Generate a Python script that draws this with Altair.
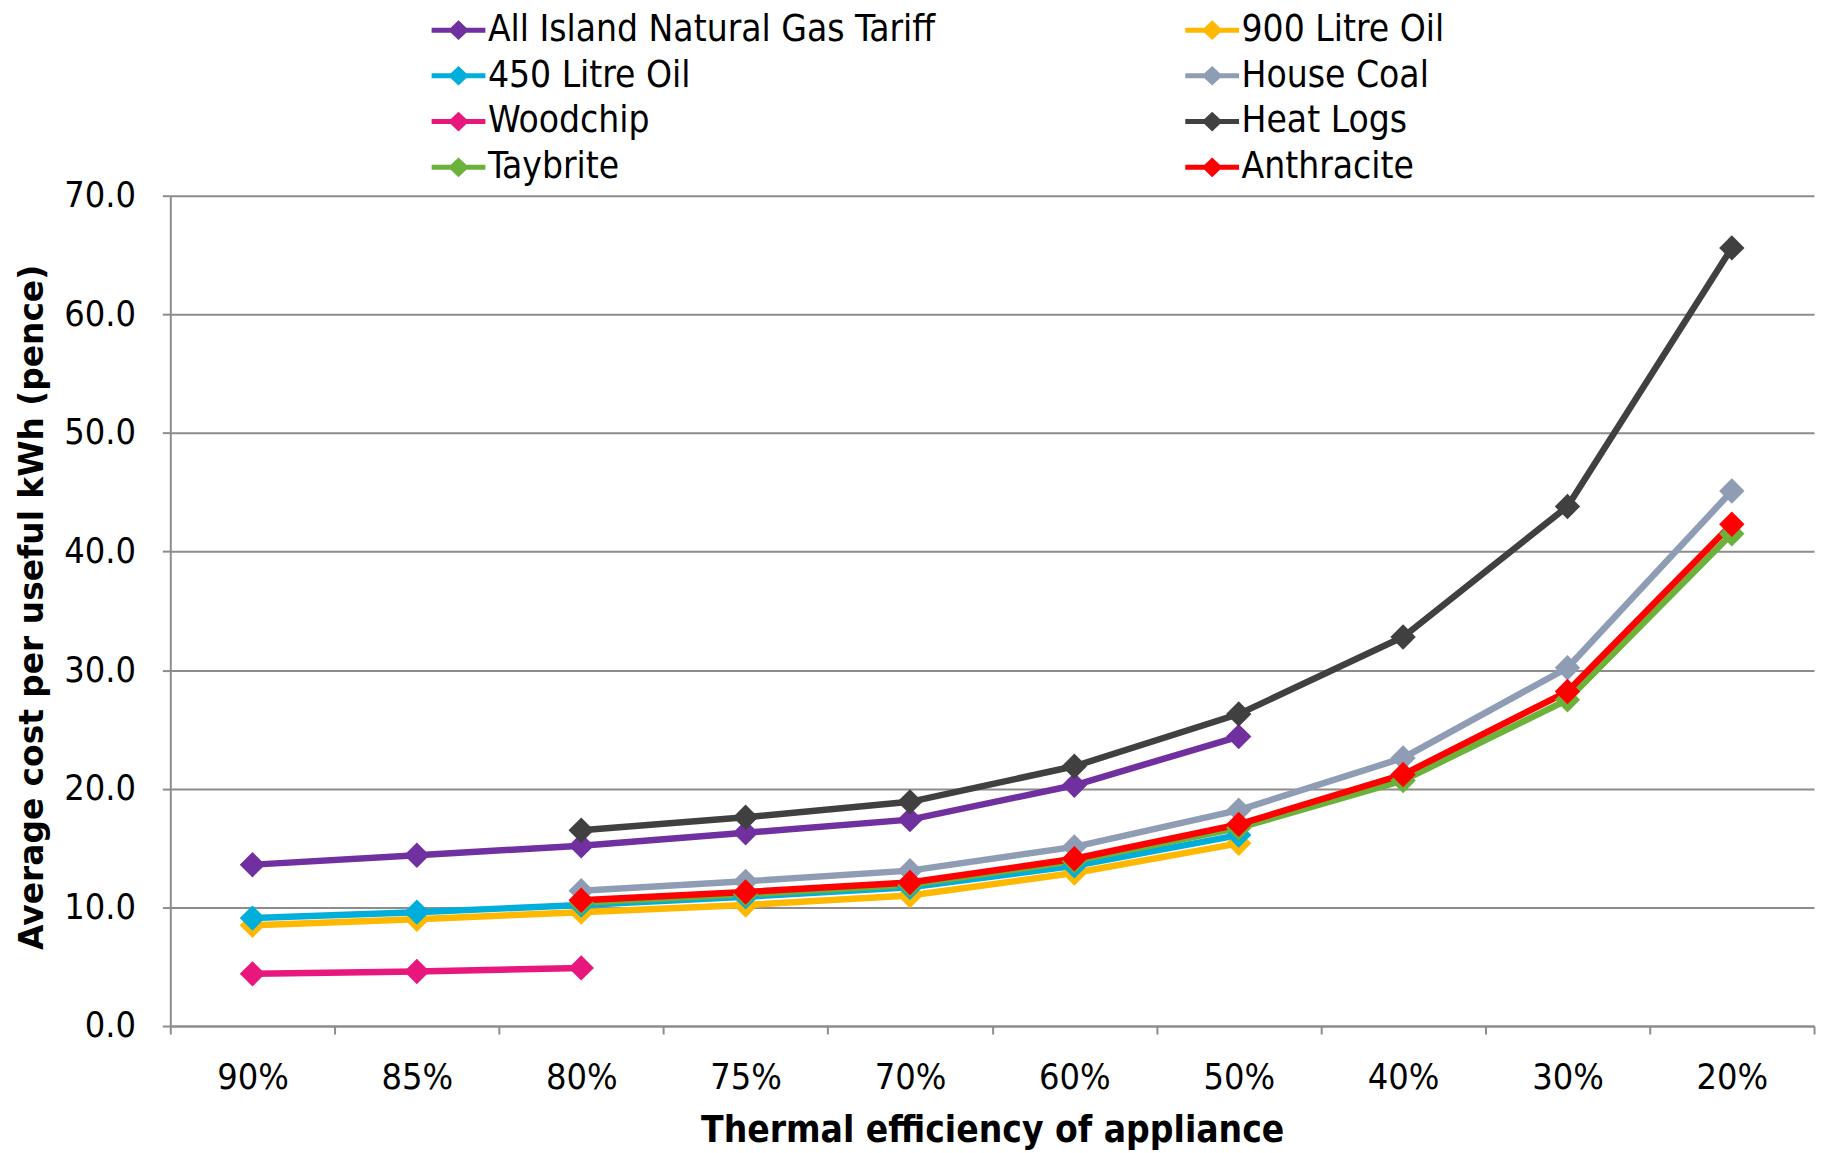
import altair as alt
import pandas as pd

categories = ["90%", "85%", "80%", "75%", "70%", "60%", "50%", "40%", "30%", "20%"]
# series in drawing order (later ones are drawn on top)
series_names = [
    "All Island Natural Gas Tariff", "900 Litre Oil", "450 Litre Oil", "House Coal",
    "Woodchip", "Heat Logs", "Taybrite", "Anthracite",
]
colors = ["#7030A0", "#FFB800", "#00AEDC", "#8F9DB4", "#E8177D", "#404040", "#6AB23A", "#FF0000"]
# legend fills column by column
legend_order = [
    "All Island Natural Gas Tariff", "450 Litre Oil", "Woodchip", "Taybrite",
    "900 Litre Oil", "House Coal", "Heat Logs", "Anthracite",
]

gas = [13.6, 14.4, 15.2, 16.3, 17.4, 20.3, 24.4, None, None, None]
oil_900 = [8.5, 9.0, 9.6, 10.2, 11.0, 12.9, 15.4, None, None, None]
oil_450 = [9.1, 9.6, 10.2, 10.9, 11.7, 13.5, 16.1, None, None, None]
house_coal = [None, None, 11.4, 12.2, 13.1, 15.1, 18.2, 22.6, 30.2, 45.1]
woodchip = [4.4, 4.6, 4.9, None, None, None, None, None, None, None]
heat_logs = [None, None, 16.5, 17.6, 18.9, 21.9, 26.3, 32.8, 43.8, 65.6]
taybrite = [None, None, 10.4, 11.1, 11.9, 13.9, 16.7, 20.7, 27.5, 41.5]
anthracite = [None, None, 10.6, 11.3, 12.1, 14.1, 17.0, 21.2, 28.2, 42.3]

series_values = [gas, oil_900, oil_450, house_coal, woodchip, heat_logs, taybrite, anthracite]

rows = []
for name, vals in zip(series_names, series_values):
    for cat, v in zip(categories, vals):
        if v is not None:
            rows.append({"Series": name, "Efficiency": cat, "Cost": v})
df = pd.DataFrame(rows)

color_map = dict(zip(series_names, colors))
legend_colors = [color_map[n] for n in legend_order]

FONT = "DejaVu Sans Condensed, DejaVu Sans"
GRID = "#8c8c8c"

# legend symbol: short line with a diamond in its middle
sym = "M-2,-0.14L1,-0.14L1,0.14L-2,0.14Z M-0.5,-0.55L0.08,0L-0.5,0.55L-1.08,0Z"

color_scale = alt.Scale(domain=legend_order, range=legend_colors)

legend = alt.Legend(
    title=None,
    orient="none",
    legendX=280,
    legendY=-185,
    columns=2,
    columnPadding=250,
    rowPadding=8,
    symbolType=sym,
    symbolSize=1296,
    symbolStrokeWidth=0,
    symbolOpacity=1,
    labelFont=FONT,
    labelFontSize=37,
    labelColor="black",
    labelOffset=2,
    labelLimit=1000,
)

x_enc = alt.X(
    "Efficiency:N",
    sort=categories,
    bandPosition=0.5,
    scale=alt.Scale(type="band", domain=categories, paddingInner=0, paddingOuter=0),
    axis=alt.Axis(
        title="Thermal efficiency of appliance",
        tickBand="extent",
        grid=False,
        labelAngle=0,
        domainColor=GRID, domainWidth=2,
        tickColor=GRID, tickWidth=2, tickSize=8,
        labelFont=FONT, labelFontSize=36, labelColor="black", labelPadding=27,
        titleFont=FONT, titleFontSize=37, titleFontWeight="bold", titleColor="black",
        titleY=116, titleBaseline="alphabetic",
    ),
)

y_enc = alt.Y(
    "Cost:Q",
    scale=alt.Scale(domain=[0, 70], nice=False),
    axis=alt.Axis(
        values=[0, 10, 20, 30, 40, 50, 60, 70],
        format=".1f",
        grid=True, gridColor=GRID, gridWidth=2,
        domainColor=GRID, domainWidth=2,
        tickColor=GRID, tickWidth=2, tickSize=8,
        labelFont=FONT, labelFontSize=36, labelColor="black", labelPadding=27,
        title="Average cost per useful kWh (pence)",
        titleFont="DejaVu Sans", titleFontSize=33, titleFontWeight="bold", titleColor="black",
        titleX=-138, titleY=413, titleBaseline="middle",
    ),
)

lines = alt.Chart(df).mark_line(strokeWidth=6.5).encode(
    x=x_enc,
    y=y_enc,
    color=alt.Color("Series:N", scale=color_scale, legend=legend),
    detail="Series:N",
)

points = alt.Chart(df).mark_point(shape="diamond", filled=True, size=650, opacity=1).encode(
    x=x_enc,
    y=y_enc,
    color=alt.Color("Series:N", scale=color_scale, legend=legend),
)

chart = (
    alt.layer(lines, points)
    .properties(
        width=1651,
        height=834,
        autosize=alt.AutoSizeParams(type="none"),
        padding={"left": 163, "top": 186, "right": 4, "bottom": 126},
        background="white",
    )
    .configure_view(stroke=None)
)

chart.save("out.html", embed_options={"renderer": "svg", "actions": False})
